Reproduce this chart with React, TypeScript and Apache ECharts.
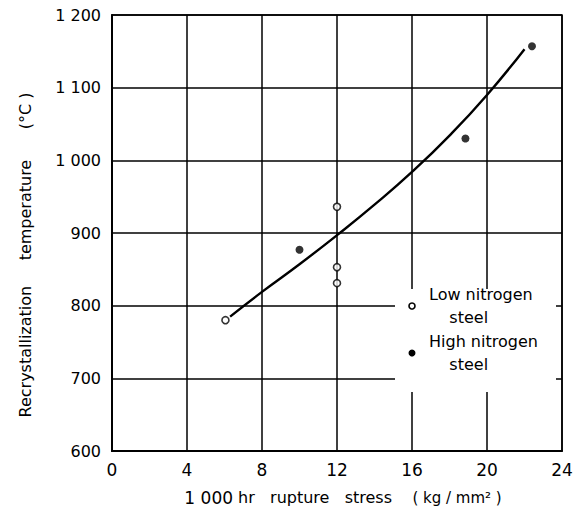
import React, { useEffect, useRef } from "react";
import * as echarts from "echarts";

// Rupture stress (kg/mm²) vs recrystallization temperature (°C)
const lowNitrogen: [number, number][] = [
  [6.05, 780],
  [12, 936],
  [12, 853],
  [12, 831],
];
const highNitrogen: [number, number][] = [
  [10, 877],
  [18.85, 1030],
  [22.4, 1157],
];
// Fitted trend curve
const trendCurve: [number, number][] = [
  [6.3, 785],
  [8, 819],
  [10, 857],
  [12, 897],
  [14, 939],
  [16, 984],
  [18, 1034],
  [20, 1090],
  [22, 1153],
];
const xTicks = { min: 0, max: 24, interval: 4 };
const yTicks = { min: 600, max: 1200, interval: 100 };
const legendNames = ["Low nitrogen", "High nitrogen"];

const FONT = "'DejaVu Sans', sans-serif";

export default function App() {
  const ref = useRef<HTMLDivElement>(null);

  useEffect(() => {
    if (!ref.current) return;
    const chart = echarts.init(ref.current, undefined, { renderer: "svg" });

    const fmtThousands = (v: number) =>
      v >= 1000 ? `${Math.floor(v / 1000)} ${String(v % 1000).padStart(3, "0")}` : String(v);

    chart.setOption({
      animation: false,
      backgroundColor: "#fff",
      textStyle: { fontFamily: FONT, color: "#000" },
      grid: {
        left: 112,
        right: 21,
        top: 15,
        bottom: 63,
        show: true,
        borderColor: "#000",
        borderWidth: 1.5,
      },
      xAxis: {
        type: "value",
        ...xTicks,
        axisLine: { lineStyle: { color: "#000", width: 2 } },
        axisTick: { show: false },
        splitLine: { lineStyle: { color: "#000", width: 1.5 } },
        axisLabel: { color: "#000", fontSize: 17, margin: 10, fontFamily: FONT },
        name: "{n|1 000}{h| hr}   rupture   stress    {s|( kg / mm² )}",
        nameLocation: "middle",
        nameGap: 38,
        nameTextStyle: {
          rich: {
            n: { fontSize: 17, fontFamily: FONT, color: "#000" },
            h: { fontSize: 16, fontFamily: FONT, color: "#000" },
            s: { fontSize: 15, fontFamily: FONT, color: "#000" },
          },
          fontSize: 16,
          fontFamily: FONT,
          color: "#000",
          padding: [0, 0, 0, 12],
        },
      },
      yAxis: {
        type: "value",
        ...yTicks,
        axisLine: { show: true, lineStyle: { color: "#000", width: 2 } },
        axisTick: { show: false },
        splitLine: { lineStyle: { color: "#000", width: 1.5 } },
        axisLabel: {
          color: "#000",
          fontSize: 16,
          margin: 11,
          fontFamily: FONT,
          formatter: fmtThousands,
        },
        name: "Recrystallization     temperature      (°C )",
        nameLocation: "middle",
        nameGap: 79,
        nameTextStyle: {
          fontSize: 16,
          fontFamily: FONT,
          color: "#000",
          padding: [0, 44, 0, 0],
        },
      },
      series: [
        {
          type: "line",
          data: trendCurve,
          smooth: true,
          showSymbol: false,
          lineStyle: { color: "#000", width: 2.4 },
          z: 3,
        },
        {
          name: legendNames[0],
          type: "scatter",
          data: lowNitrogen,
          symbol: "circle",
          symbolSize: 7,
          itemStyle: { color: "#fff", borderColor: "#000", borderWidth: 1.6 },
          z: 4,
        },
        {
          name: legendNames[1],
          type: "scatter",
          data: highNitrogen,
          symbol: "circle",
          symbolSize: 8,
          itemStyle: { color: "#000" },
          z: 4,
        },
      ],
      graphic: [
        {
          type: "rect",
          shape: { x: 395, y: 289, width: 161, height: 103 },
          style: { fill: "#fff" },
          z: 10,
        },
        {
          type: "circle",
          shape: { cx: 412, cy: 306, r: 3 },
          style: { fill: "#fff", stroke: "#000", lineWidth: 1.6 },
          z: 11,
        },
        {
          type: "text",
          x: 429,
          y: 306,
          style: {
            text: `${legendNames[0]}\n    steel`,
            font: `16px ${FONT}`,
            fill: "#000",
            verticalAlign: "middle",
            lineHeight: 23,
          },
          z: 11,
        },
        {
          type: "circle",
          shape: { cx: 412, cy: 353, r: 3.5 },
          style: { fill: "#000" },
          z: 11,
        },
        {
          type: "text",
          x: 429,
          y: 353,
          style: {
            text: `${legendNames[1]}\n    steel`,
            font: `16px ${FONT}`,
            fill: "#000",
            verticalAlign: "middle",
            lineHeight: 23,
          },
          z: 11,
        },
      ],
    });

    return () => chart.dispose();
  }, []);

  return (
    <div
      ref={ref}
      style={{ position: "absolute", left: 0, top: 0, width: 583, height: 514 }}
    />
  );
}
